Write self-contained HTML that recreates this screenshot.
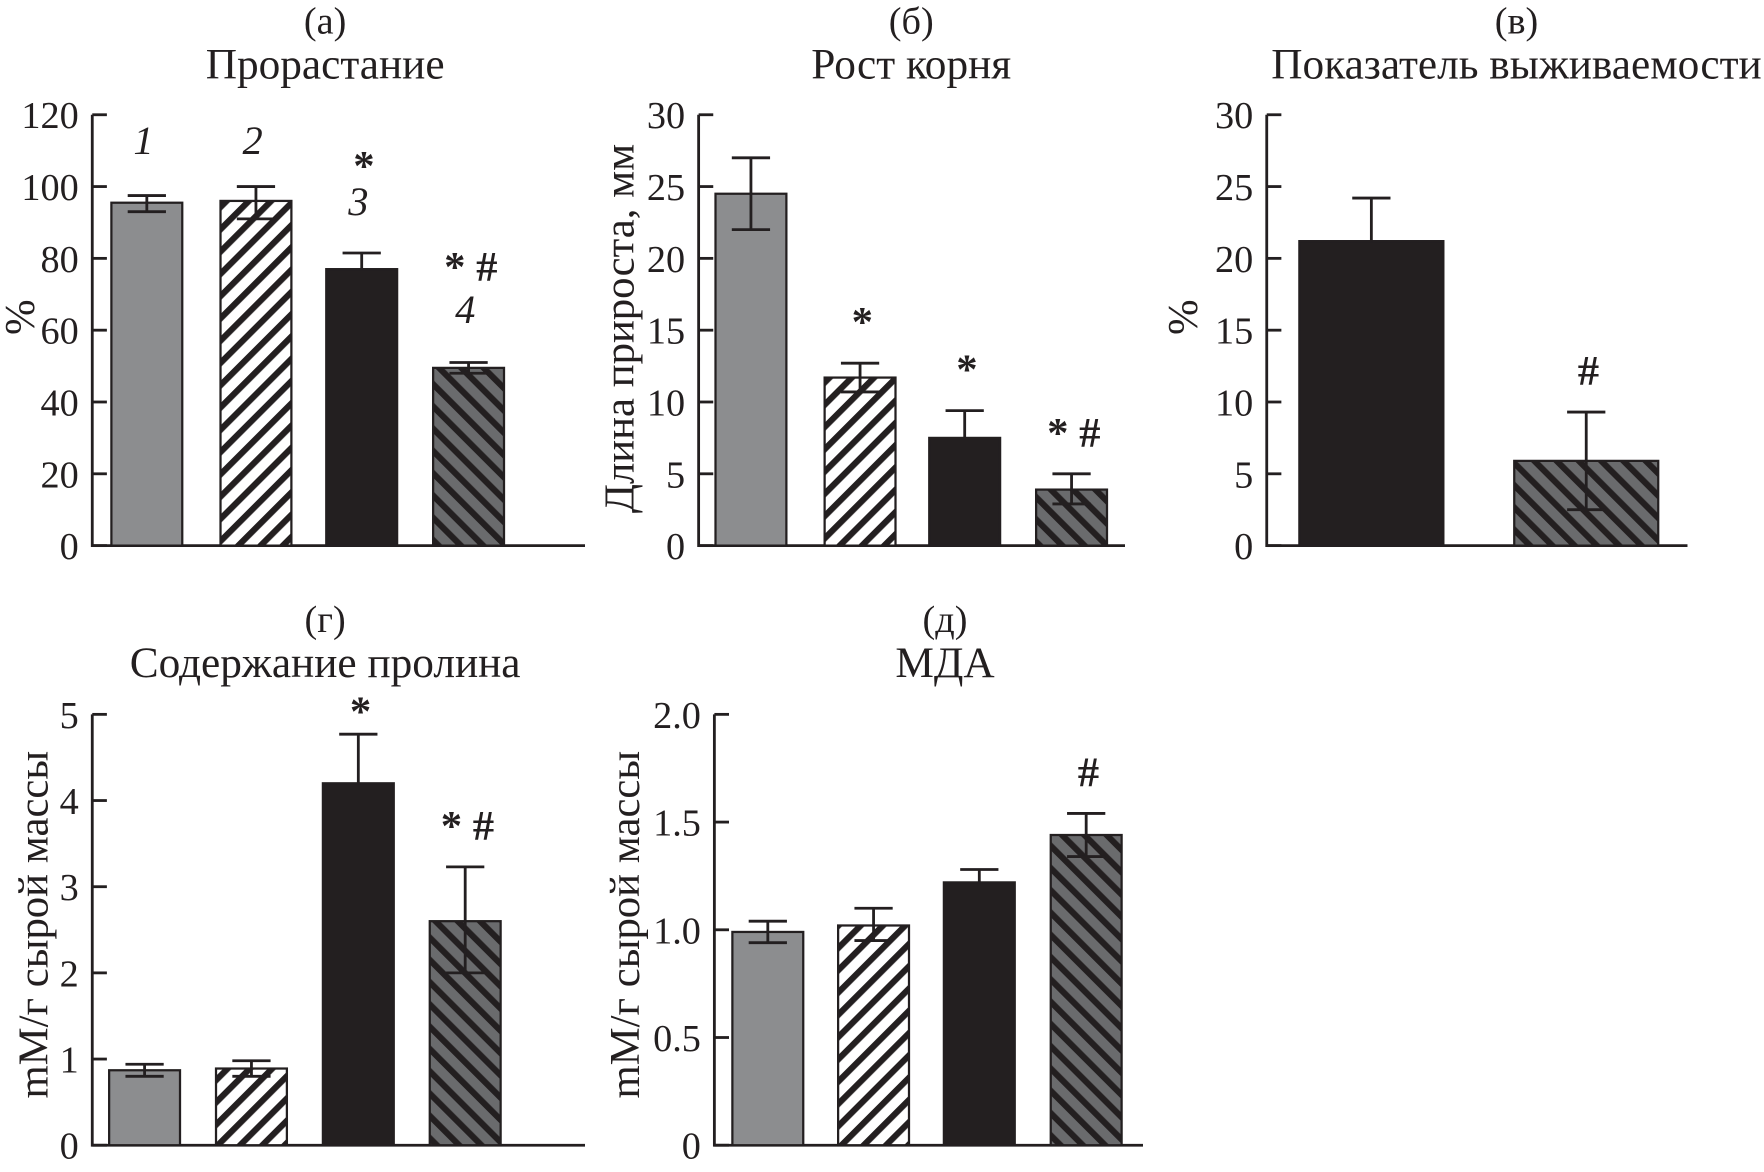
<!DOCTYPE html>
<html><head><meta charset="utf-8">
<style>
html,body{margin:0;padding:0;background:#fff;}
svg{display:block;}
text{font-family:"Liberation Serif","DejaVu Serif",serif;fill:#231f20;}
</style></head>
<body>
<svg id="fig" xmlns="http://www.w3.org/2000/svg" width="1764" height="1172" viewBox="0 0 1568 1041.8">
<defs>
<pattern id="hatchLight" patternUnits="userSpaceOnUse" width="14" height="14" patternTransform="rotate(45)">
<rect width="14" height="14" fill="#fff"/><rect width="5.5" height="14" fill="#231f20"/>
</pattern>
<pattern id="hatchDark" patternUnits="userSpaceOnUse" width="14" height="14" patternTransform="rotate(-45)">
<rect width="14" height="14" fill="#6a6b6d"/><rect width="5.5" height="14" fill="#231f20"/>
</pattern>
</defs>
</svg>
<script>
// Panel (а) Прорастание
const aValues=[95.5,96,77,49.5];
const aErrLo=[93,91,77,48];
const aErrHi=[97.5,100,81.5,51];
const aTicks=[0,20,40,60,80,100,120];
const aMarks=["","","*","*#"];
const aNums=["1","2","3","4"];
// Panel (б) Рост корня
const bValues=[24.5,11.7,7.5,3.9];
const bErrLo=[22,10.7,7.5,2.9];
const bErrHi=[27,12.7,9.4,5];
const bTicks=[0,5,10,15,20,25,30];
const bMarks=["","*","*","*#"];
// Panel (в) Показатель выживаемости
const cValues=[21.2,5.9];
const cErrLo=[21.2,2.5];
const cErrHi=[24.2,9.3];
const cTicks=[0,5,10,15,20,25,30];
const cMarks=["","#"];
// Panel (г) Содержание пролина
const dValues=[0.87,0.89,4.2,2.6];
const dErrLo=[0.8,0.8,4.2,2.0];
const dErrHi=[0.94,0.98,4.77,3.23];
const dTicks=[0,1,2,3,4,5];
const dMarks=["","","*","*#"];
// Panel (д) МДА
const eValues=[0.99,1.02,1.22,1.44];
const eErrLo=[0.94,0.95,1.22,1.34];
const eErrHi=[1.04,1.1,1.28,1.54];
const eTicks=[0,0.5,1.0,1.5,2.0];
const eTickLabels=["0","0.5","1.0","1.5","2.0"];
const eMarks=["","","","#"];

const NS="http://www.w3.org/2000/svg";
const svg=document.getElementById('fig');
function mk(tag,attrs,parent){const e=document.createElementNS(NS,tag);for(const k in attrs)e.setAttribute(k,attrs[k]);(parent||svg).appendChild(e);return e;}
const fills={gray:"#8c8d8f",light:"url(#hatchLight)",black:"#231f20",dark:"url(#hatchDark)"};

function panel(p){
  const g=mk('g',{});
  
  
  const ymax=p.ticks[p.ticks.length-1];
  const y=v=>p.y0-(v/ymax)*(p.y0-p.y1);
  const ax=mk('path',{d:`M${p.ax} ${p.y1}V${p.y0}H${p.xEnd}`,stroke:'#231f20','stroke-width':2.5,fill:'none'},g);
  
  
  p.ticks.forEach((t,i)=>{
    const yy=y(t);
    const tk=mk('line',{x1:p.ax,x2:p.ax+13,y1:yy,y2:yy,stroke:'#231f20','stroke-width':2.5},g);
    
    
    const tl=mk('text',{x:p.ax-12,y:yy+12,'text-anchor':'end','font-size':34},g);
    tl.textContent=p.tickLabels?p.tickLabels[i]:String(t);
    
    
  });
  const lt=mk('text',{x:p.tx,y:p.ty-40,'text-anchor':'middle','font-size':34},g);
  lt.textContent=p.letter;
  
  
  const tt=mk('text',{x:p.tx,y:p.ty,'text-anchor':'middle','font-size':38.5},g);
  tt.textContent=p.title;
  
  
  const yl=mk('text',{x:0,y:0,'text-anchor':'middle','font-size':38,transform:`translate(${p.ylx},${p.yly}) rotate(-90)`},g);
  yl.textContent=p.ylabel;
  
  
  p.values.forEach((v,i)=>{
    const x0=p.bx[i], w=p.bw;
    const r=mk('rect',{x:x0,y:y(v),width:w,height:p.y0-y(v),fill:fills[p.styles[i]],stroke:'#231f20','stroke-width':2},g);
    
    
    const cx=x0+w/2;
    const e=mk('path',{d:`M${cx} ${y(p.lo[i])}V${y(p.hi[i])}M${cx-17} ${y(p.hi[i])}H${cx+17}`+(p.lo[i]<v?`M${cx-17} ${y(p.lo[i])}H${cx+17}`:''),stroke:'#231f20','stroke-width':2.5,fill:'none'},g);
    
    
    if(p.marks[i]){
      const my=(p.markY&&p.markY[i])?p.markY[i]:y(p.hi[i])-p.markGap;
      const m=mk('text',{x:cx+2,y:my,'text-anchor':'middle','font-size':38,'font-weight':'bold','font-family':'"Liberation Sans",sans-serif'},g);
      m.textContent=p.marks[i].split('').join(' ');
      
      
    }
    if(p.nums){
      const n=mk('text',{x:cx-3,y:p.numY[i],'text-anchor':'middle','font-size':36,'font-style':'italic'},g);
      n.textContent=p.nums[i];
      
      
    }
  });
}
const sixStyles=["gray","light","black","dark"];
panel({name:'panel-germination',ax:82,xEnd:520,y0:485,y1:102,ticks:aTicks,values:aValues,lo:aErrLo,hi:aErrHi,marks:aMarks,nums:aNums,
  markY:[0,0,160,250],numY:[137,137,191,287],
  bx:[99,196,290,385],bw:63,styles:sixStyles,letter:'(а)',title:'Прорастание',tx:289,ty:70,ylabel:'%',ylx:30,yly:282});
panel({name:'panel-root-growth',ax:621,xEnd:1000,y0:485,y1:102,ticks:bTicks,values:bValues,lo:bErrLo,hi:bErrHi,marks:bMarks,markGap:24,
  bx:[636,733,826,921],bw:63,styles:sixStyles,letter:'(б)',title:'Рост корня',tx:810,ty:70,ylabel:'Длина прироста, мм',ylx:563,yly:292});
panel({name:'panel-survival',ax:1126,xEnd:1500,y0:485,y1:102,ticks:cTicks,values:cValues,lo:cErrLo,hi:cErrHi,marks:cMarks,markGap:24,
  bx:[1155,1346],bw:128,styles:["black","dark"],letter:'(в)',title:'Показатель выживаемости',tx:1348,ty:70,ylabel:'%',ylx:1064,yly:282});
panel({name:'panel-proline',ax:82,xEnd:520,y0:1018,y1:635,ticks:dTicks,values:dValues,lo:dErrLo,hi:dErrHi,marks:dMarks,markGap:24,
  markY:[0,0,645,0],
  bx:[97,192,287,382],bw:63,styles:sixStyles,letter:'(г)',title:'Содержание пролина',tx:289,ty:602,ylabel:'mM/г сырой массы',ylx:42,yly:822});
panel({name:'panel-mda',ax:635,xEnd:1016,y0:1018,y1:635,ticks:eTicks,tickLabels:eTickLabels,values:eValues,lo:eErrLo,hi:eErrHi,marks:eMarks,markGap:24,
  bx:[651,745,839,934],bw:63,styles:sixStyles,letter:'(д)',title:'МДА',tx:840,ty:602,ylabel:'mM/г сырой массы',ylx:568,yly:822});
</script>
</body></html>
